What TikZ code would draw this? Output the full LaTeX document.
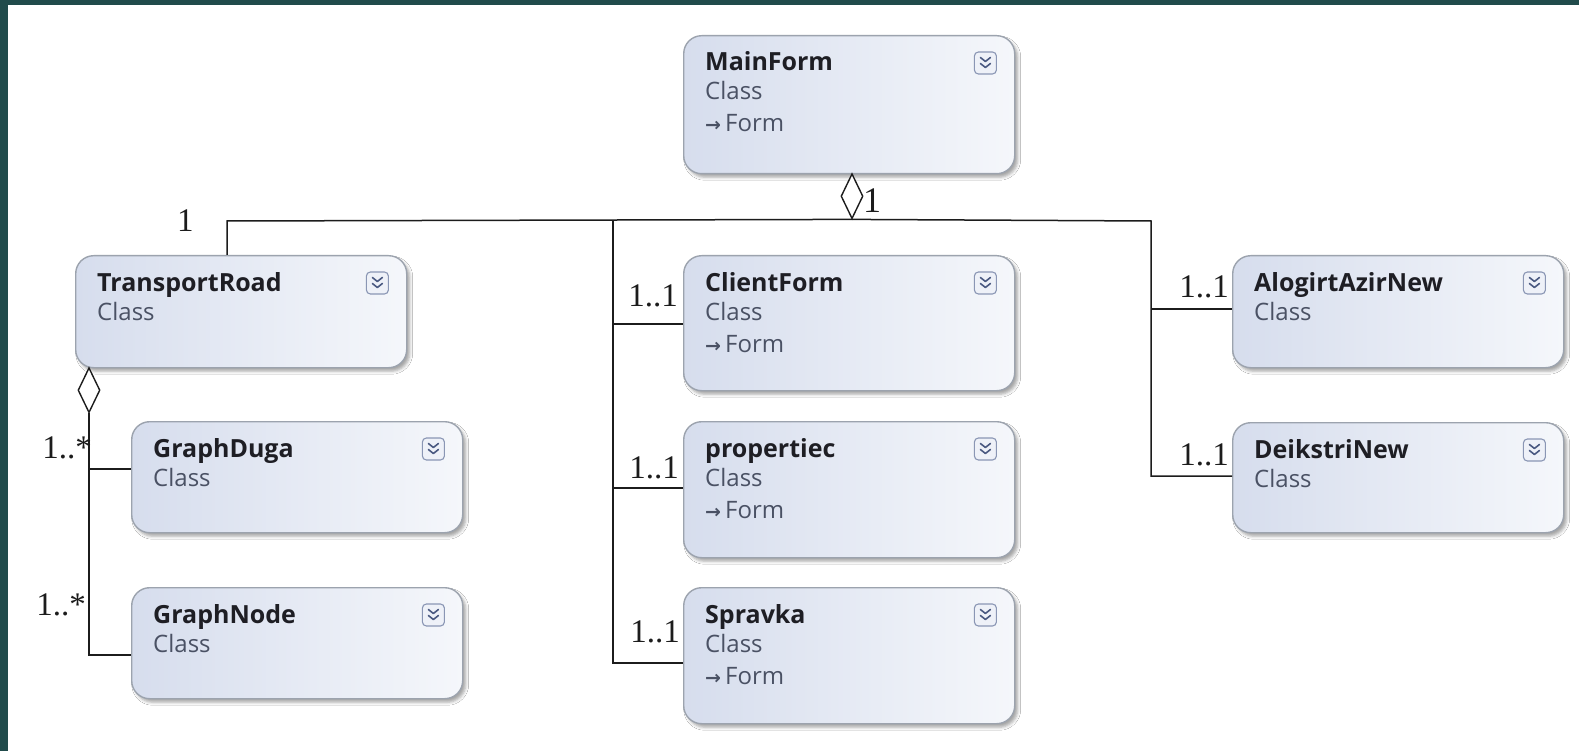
\documentclass[tikz,border=0pt]{standalone}
\usepackage{fontspec}
\setmainfont{Open Sans}
\newfontfamily\multfont{Liberation Serif}
\newfontfamily\symfont{DejaVu Sans}
\usetikzlibrary{calc,shapes.geometric,shadows.blur}

\definecolor{frameteal}{HTML}{214B4B}
\definecolor{boxedge}{HTML}{9CA3AE}
\definecolor{boxleft}{HTML}{D6DDED}
\definecolor{boxright}{HTML}{F5F7FB}
\definecolor{titleink}{HTML}{1E1E24}
\definecolor{kindink}{HTML}{4A5164}
\definecolor{expedge}{HTML}{8A96B4}
\definecolor{expfill}{HTML}{EEF1F8}
\definecolor{expchev}{HTML}{4B5A82}
\definecolor{lineink}{HTML}{1C1C1C}

\tikzset{
  clsbox/.style={draw=boxedge, line width=1.4pt, rounded corners=18pt,
    left color=boxleft, right color=boxright, minimum width=331pt,
    anchor=north west, inner sep=0pt,
    blur shadow={shadow xshift=3pt, shadow yshift=-3.5pt,
      shadow blur radius=3pt, shadow opacity=35}},
  clstitle/.style={anchor=base west, inner sep=0pt, text=titleink,
    font=\fontsize{25}{30}\selectfont\bfseries},
  clskind/.style={anchor=base west, inner sep=0pt, text=kindink,
    font=\fontsize{24}{30}\selectfont},
  expander/.style={draw=expedge, line width=1.1pt, rounded corners=4pt,
    fill=expfill, minimum width=22pt, minimum height=22pt, inner sep=0pt},
  chev/.style={draw=expchev, line width=1.6pt, line cap=round, line join=round},
  conn/.style={draw=lineink, line width=1.5pt},
  agg/.style={shape=diamond, draw=lineink, line width=1.4pt, fill=white,
    inner sep=0pt, minimum width=22pt, minimum height=45pt, anchor=north},
  mult/.style={inner sep=0pt, text=lineink,
    font=\multfont\fontsize{33}{36}\selectfont},
}

% one class shape: name, left, top, height, title, base-class line (or empty)
\newcommand\umlclass[6]{%
  \node[clsbox, minimum height=#4pt] (#1) at (#2,#3) {};
  \node[clstitle] (#1-title) at ($(#1.north west)+(22,36)$) {#5};
  \node[clskind] (#1-kind) at ($(#1.north west)+(22,65)$) {Class};
  \node[expander] (#1-exp) at ($(#1.north east)+(-30,28)$) {};
  \draw[chev] ($(#1-exp.center)+(-5,-5.5)$) -- ++(5,4) -- ++(5,-4);
  \draw[chev] ($(#1-exp.center)+(-5,0.5)$) -- ++(5,4) -- ++(5,-4);
  \if\relax\detokenize{#6}\relax\else
    \node[clskind] (#1-base) at ($(#1.north west)+(22,97)$)
      {{\symfont\bfseries\fontsize{19}{24}\selectfont\char"2192}\,#6};
  \fi
}

\begin{document}
\begin{tikzpicture}[x=1pt,y=-1pt]
  % frame and canvas
  \fill[frameteal] (0,0) rectangle (1579,751);
  \fill[white] (8,5) rectangle (1579,751);
  \useasboundingbox (0,0) rectangle (1579,751);

  % classes
  \umlclass{mainform}{683}{35}{138}{MainForm}{Form}
  \umlclass{transportroad}{75}{255}{112}{TransportRoad}{}
  \umlclass{graphduga}{131}{421}{111}{GraphDuga}{}
  \umlclass{graphnode}{131}{587}{111}{GraphNode}{}
  \umlclass{clientform}{683}{255}{135}{ClientForm}{Form}
  \umlclass{propertiec}{683}{421}{136}{propertiec}{Form}
  \umlclass{spravka}{683}{587}{136}{Spravka}{Form}
  \umlclass{alogirt}{1232}{255}{112}{AlogirtAzirNew}{}
  \umlclass{deikstri}{1232}{422}{110}{DeikstriNew}{}

  % aggregation diamonds
  \node[agg] (aggmain) at (852,173) {};
  \node[agg] (aggroad) at (89,367) {};

  % bus and attachment points
  \coordinate (busL) at (227,221);
  \coordinate (busM) at (613,221);
  \coordinate (busR) at (1151,221);
  \coordinate (cfPin) at (683,324);
  \coordinate (prPin) at (683,488);
  \coordinate (spPin) at (683,663);
  \coordinate (alPin) at (1232,309);
  \coordinate (dkPin) at (1232,476);
  \coordinate (gdPin) at (131,469);
  \coordinate (gnPin) at (131,655);

  % MainForm aggregation tree
  \draw[conn] (aggmain.south) -- (busL) -- (busL |- transportroad.north);
  \draw[conn] (aggmain.south) -- (busR) |- (dkPin);
  \draw[conn] (busR |- alPin) -- (alPin);
  \draw[conn] (busM) |- (spPin);
  \draw[conn] (busM |- cfPin) -- (cfPin);
  \draw[conn] (busM |- prPin) -- (prPin);

  % TransportRoad aggregation
  \draw[conn] (aggroad.south) |- (gnPin);
  \draw[conn] (aggroad.south |- gdPin) -- (gdPin);

  % multiplicities
  \node[mult, anchor=base west, font=\multfont\fontsize{36}{40}\selectfont] (m-main) at (863,213) {1};
  \node[mult, anchor=base west] (m-road) at (177,232) {1};
  \node[mult, anchor=base east] (m-cf) at (678,306) {1..1};
  \node[mult, anchor=base east] (m-pr) at (679,478) {1..1};
  \node[mult, anchor=base east] (m-sp) at (680,642) {1..1};
  \node[mult, anchor=base east] (m-al) at (1229,298) {1..1};
  \node[mult, anchor=base east] (m-dk) at (1229,465) {1..1};
  \node[mult, anchor=base east] (m-gd) at (92,458) {1..*};
  \node[mult, anchor=base east] (m-gn) at (86,615) {1..*};
\end{tikzpicture}
\end{document}
